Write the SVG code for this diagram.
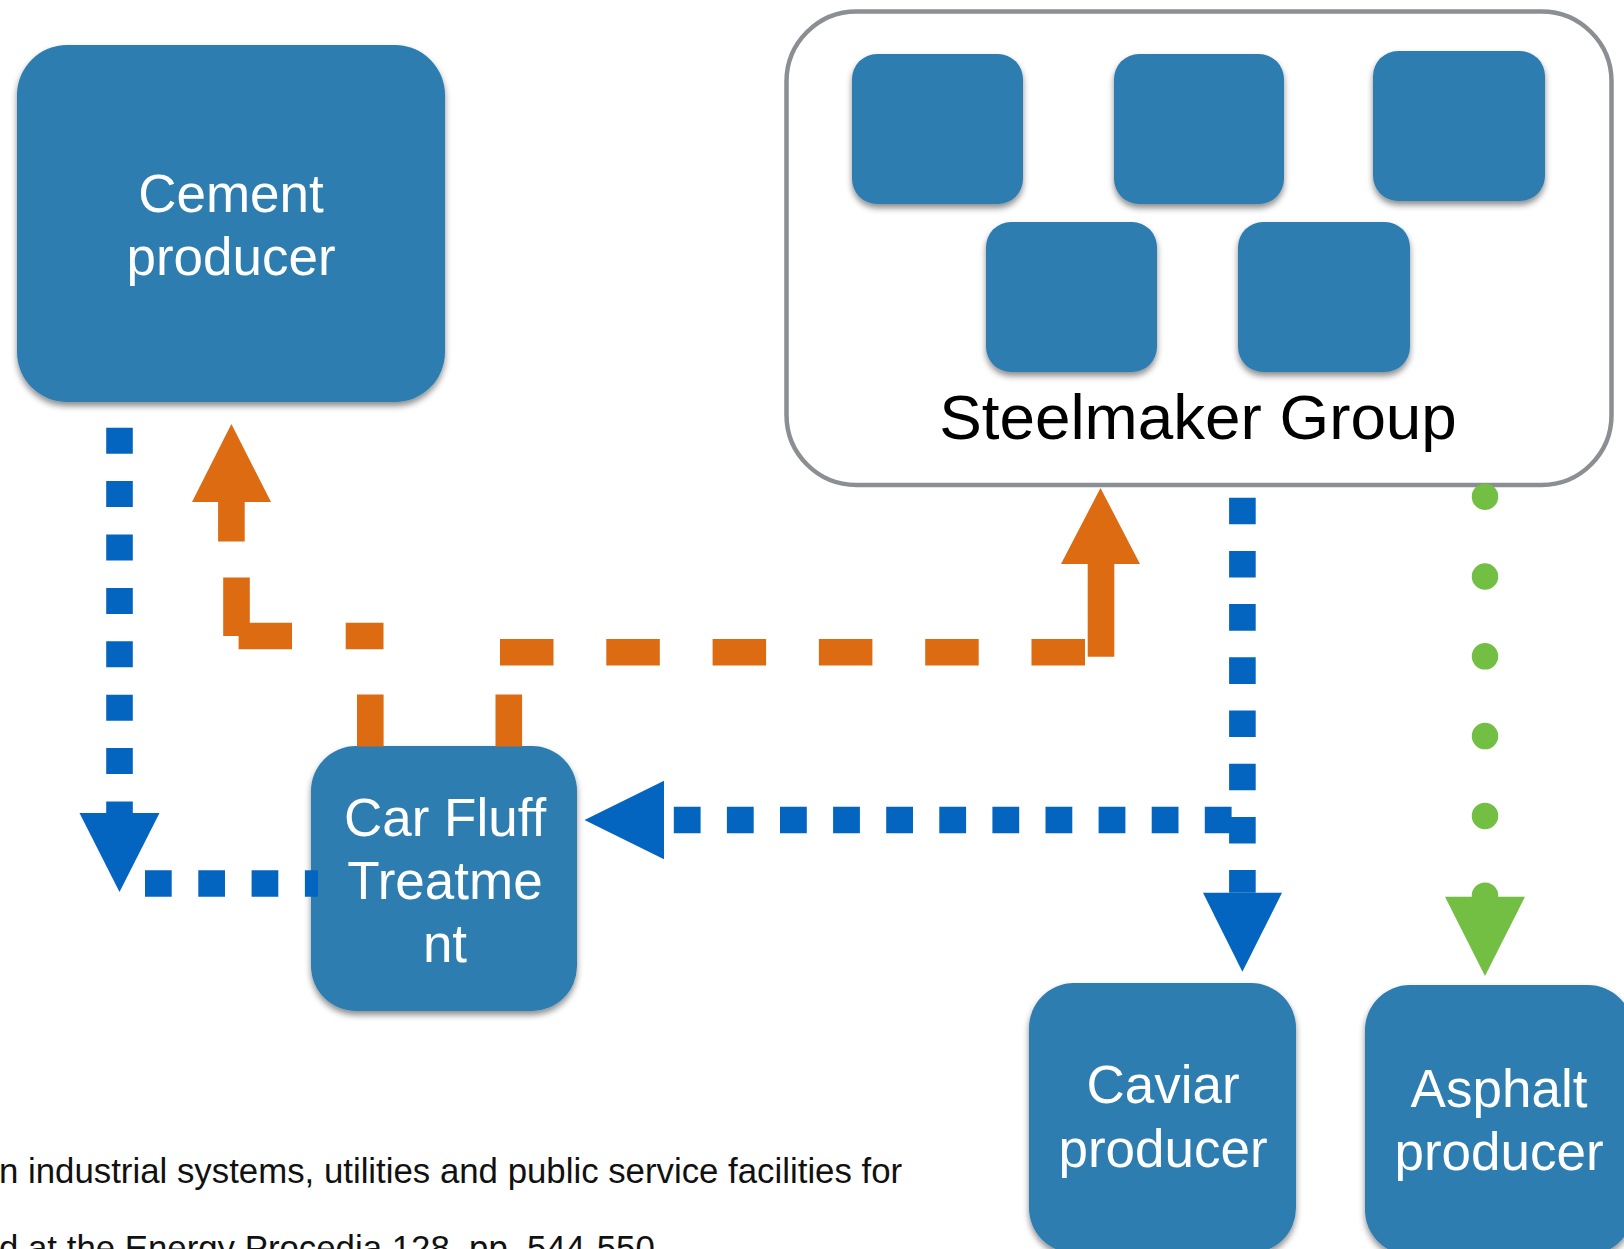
<svg xmlns="http://www.w3.org/2000/svg" width="1624" height="1249" viewBox="0 0 1624 1249">
<style>
.node{fill:#2e7db0;filter:url(#sh)}
.lbl{font-family:"Liberation Sans",Arial,sans-serif;font-size:53px;fill:#ffffff;text-anchor:middle}
.title{font-family:"Liberation Sans",Arial,sans-serif;font-size:63.8px;fill:#000000;text-anchor:middle}
.foot{font-family:"Liberation Sans",Arial,sans-serif;font-size:34.8px;fill:#111111}
.blue{stroke:#0465c0;stroke-width:26.6;fill:none}
.orange{stroke:#dd6b12;stroke-width:26.6;fill:none}
.green{stroke:#72bf44;stroke-width:26.5;fill:none;stroke-linecap:round;stroke-dasharray:0 79.8}
.bh{fill:#0465c0}
.oh{fill:#dd6b12}
.gh{fill:#72bf44}
</style>
<defs>
<filter id="sh" x="-10%" y="-10%" width="120%" height="130%">
<feDropShadow dx="0" dy="4" stdDeviation="3" flood-color="#000000" flood-opacity="0.45"/>
</filter>
</defs>
<rect width="1624" height="1249" fill="#ffffff"/>

<g id="steelmaker-group">
<rect x="786.5" y="11.5" width="825" height="473.5" rx="70" fill="#ffffff" stroke="#8b8e92" stroke-width="4.5"/>
<rect class="node" x="852" y="54" width="171" height="150" rx="25"/>
<rect class="node" x="1114" y="54" width="170" height="150" rx="25"/>
<rect class="node" x="1373" y="51" width="172" height="150" rx="25"/>
<rect class="node" x="986" y="222" width="171" height="150" rx="25"/>
<rect class="node" x="1238" y="222" width="172" height="150" rx="25"/>
<text class="title" x="1198" y="439">Steelmaker Group</text>
</g>

<g id="cement-producer">
<rect class="node" x="17" y="45" width="428" height="357" rx="50"/>
<text class="lbl" x="231" y="212">Cement</text>
<text class="lbl" x="231" y="275">producer</text>
</g>

<g id="car-fluff-treatment">
<rect class="node" x="311" y="746" width="266" height="265" rx="45"/>
<text class="lbl" x="445" y="836">Car Fluff</text>
<text class="lbl" x="445" y="899">Treatme</text>
<text class="lbl" x="445" y="962">nt</text>
</g>

<g id="caviar-producer">
<rect class="node" x="1029" y="983" width="267" height="270" rx="45"/>
<text class="lbl" x="1163" y="1103">Caviar</text>
<text class="lbl" x="1163" y="1167">producer</text>
</g>

<g id="asphalt-producer">
<rect class="node" x="1365" y="985" width="268" height="270" rx="45"/>
<text class="lbl" x="1499" y="1107">Asphalt</text>
<text class="lbl" x="1499" y="1170">producer</text>
</g>

<g id="connectors">
<g id="c-cement-carfluff">
<path class="blue" d="M119.5,427.7 V813" stroke-dasharray="26 27.4"/>
<path class="blue" d="M145,883.5 H318" stroke-dasharray="26.7 26.6"/>
<polygon class="bh" points="79.5,813 159.5,813 119.5,892"/>
</g>
<g id="c-carfluff-cement">
<path class="orange" d="M370.3,746.6 V694.5 M383.5,636 H345.7 M292,636 H238.6 M236.5,636 V577.5 M231.4,541.5 V501"/>
<polygon class="oh" points="192,502 271,502 231.4,424"/>
</g>
<g id="c-carfluff-steel">
<path class="orange" d="M508.8,746.6 V694.5"/>
<path class="orange" d="M500,652.3 H1085" stroke-dasharray="53.5 52.8"/>
<path class="orange" d="M1101,656.7 V563"/>
<polygon class="oh" points="1061,564 1140,564 1100.5,488"/>
</g>
<g id="c-steel-carfluff">
<path class="blue" d="M673.8,820 H1232" stroke-dasharray="26.8 26.3"/>
<polygon class="bh" points="584.5,820 664,780.7 664,859.3"/>
</g>
<g id="c-steel-caviar">
<path class="blue" d="M1242.4,497.7 V892.7" stroke-dasharray="26.6 26.6"/>
<polygon class="bh" points="1203,892.7 1282,892.7 1242.4,971.7"/>
</g>
<g id="c-steel-asphalt">
<path class="green" d="M1485,496.7 V896"/>
<polygon class="gh" points="1445,896.7 1525,896.7 1485,976"/>
</g>
</g>

<g id="footer">
<text class="foot" x="-1" y="1183">n industrial systems, utilities and public service facilities for</text>
<text class="foot" x="-1" y="1260">d at the Energy Procedia 128, pp. 544-550</text>
</g>
</svg>
